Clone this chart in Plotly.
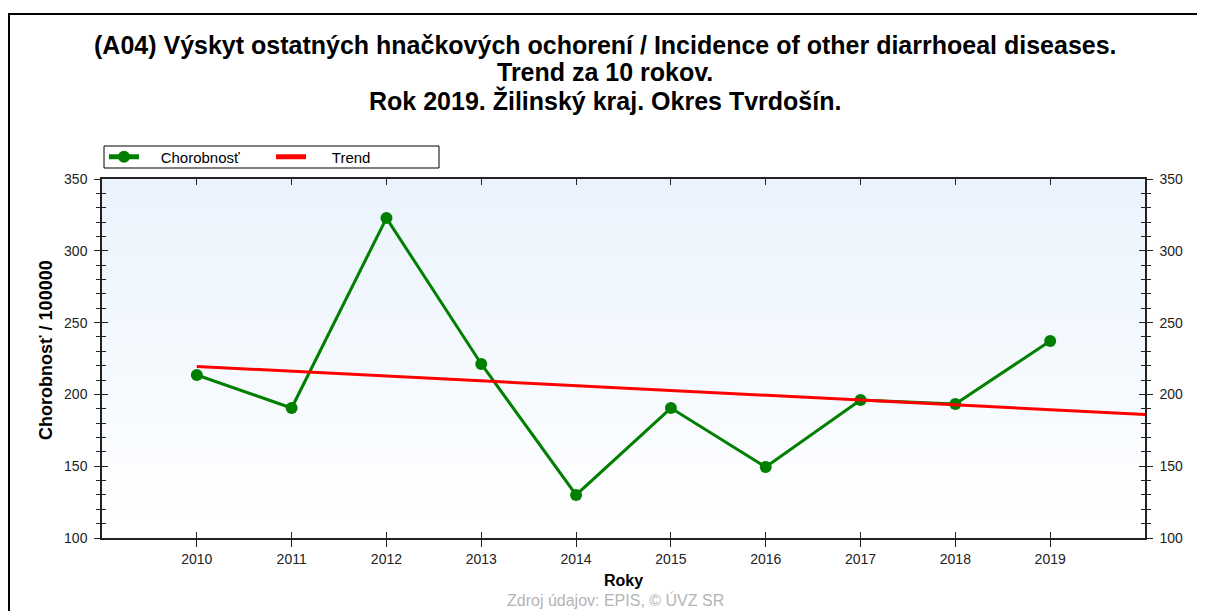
import plotly.graph_objects as go

years = [2010, 2011, 2012, 2013, 2014, 2015, 2016, 2017, 2018, 2019]
chorobnost = [213.5, 190.5, 322.8, 221.2, 130.0, 190.5, 149.4, 196.1, 193.3, 237.2]
trend_years = [2010, 2020]
trend_values = [219.5, 186.0]

title_lines = [
    "(A04) Výskyt ostatných hnačkových ochorení / Incidence of other diarrhoeal diseases.",
    "Trend za 10 rokov.",
    "Rok 2019. Žilinský kraj. Okres Tvrdošín.",
]

OFF = 8  # page body margin
W, H = 1205 - OFF, 611 - OFF
# plot area in page (screenshot) coordinates
L, R, T, B = 102, 1145, 179, 538
pw, ph = R - L, B - T

def px(x):
    return (x - L) / pw

def py(y):
    return (B - y) / ph

FONT = "Liberation Sans, Arial, sans-serif"
AX = "#222222"
PAD = "\u00a0" * 4

fig = go.Figure()

fig.add_trace(go.Scatter(
    x=years, y=chorobnost, name=PAD + "Chorobnosť", mode="lines+markers",
    line=dict(color="#007f00", width=3),
    marker=dict(color="#007f00", size=12, symbol="circle"),
))
fig.add_trace(go.Scatter(
    x=trend_years, y=trend_values, name=PAD + "\u00a0Trend", mode="lines",
    line=dict(color="#ff0000", width=3),
))
# dummy traces to anchor auxiliary axes
for xa, ya in [("x2", "y2"), ("x3", "y3"), ("x", "y4"), ("x", "y5")]:
    fig.add_trace(go.Scatter(x=[None], y=[None], xaxis=xa, yaxis=ya,
                             showlegend=False, hoverinfo="skip"))

# gradient background
n = 60
top = (234, 243, 253)
bot = (255, 255, 255)
for i in range(n):
    t = i / (n - 1)
    c = tuple(round(top[k] + (bot[k] - top[k]) * t) for k in range(3))
    fig.add_shape(type="rect", xref="paper", yref="paper",
                  x0=0, x1=1, y0=1 - (i + 1) / n, y1=1 - i / n + 0.002,
                  fillcolor="rgb(%d,%d,%d)" % c, line=dict(width=0), layer="below")

# outer frame
fig.add_shape(type="rect", xref="paper", yref="paper",
              x0=px(9), x1=px(1240), y0=py(660), y1=py(14),
              line=dict(color="black", width=2), fillcolor="rgba(0,0,0,0)")
# legend box
fig.add_shape(type="rect", xref="paper", yref="paper",
              x0=px(104), x1=px(439), y0=py(168), y1=py(146),
              line=dict(color="black", width=1), fillcolor="white")

xr = [2009, 2020]
yr = [100, 350]
tickfont = dict(family=FONT, size=14, color="#222222")

fig.update_layout(
    width=W, height=H,
    margin=dict(l=L - OFF, r=W - (R - OFF), t=T - OFF, b=H - (B - OFF), pad=0),
    paper_bgcolor="white", plot_bgcolor="rgba(0,0,0,0)",
    font=dict(family=FONT, size=13, color="black"),
    showlegend=True,
    legend=dict(orientation="h", x=px(104), y=py(157), xanchor="left", yanchor="middle",
                bgcolor="rgba(0,0,0,0)", borderwidth=0,
                font=dict(family=FONT, size=15, color="black"),
                entrywidth=122, entrywidthmode="pixels",
                itemsizing="constant", tracegroupgap=0),
    xaxis=dict(range=xr, tickmode="array", tickvals=years, ticktext=[str(y) for y in years],
               ticks="outside", ticklen=7, tickcolor=AX, tickwidth=1,
               showline=True, linecolor=AX, linewidth=1.5, showgrid=False, zeroline=False,
               tickfont=tickfont, fixedrange=True),
    xaxis2=dict(range=xr, overlaying="x", side="bottom", anchor="y", tickmode="array",
                tickvals=years, ticks="inside", ticklen=6, tickcolor=AX,
                showticklabels=False, showline=False, showgrid=False, zeroline=False),
    xaxis3=dict(range=xr, overlaying="x", side="top", anchor="y", tickmode="array",
                tickvals=years, ticks="inside", ticklen=6, tickcolor=AX,
                showticklabels=False, showline=True, linecolor=AX, linewidth=1.5,
                showgrid=False, zeroline=False),
    yaxis=dict(range=yr, tickmode="linear", tick0=100, dtick=50,
               ticks="outside", ticklen=6, tickcolor=AX,
               minor=dict(ticks="outside", ticklen=4, dtick=10, tickcolor=AX),
               showline=True, linecolor=AX, linewidth=1.5, showgrid=False, zeroline=False,
               tickfont=tickfont, ticklabelstandoff=4),
    yaxis2=dict(range=yr, overlaying="y", side="right", anchor="x2", tickmode="linear",
                tick0=100, dtick=50, ticks="outside", ticklen=6, tickcolor=AX,
                minor=dict(ticks="outside", ticklen=4, dtick=10, tickcolor=AX),
                showline=True, linecolor=AX, linewidth=1.5, showgrid=False, zeroline=False,
                tickfont=tickfont, ticklabelstandoff=4),
    yaxis3=dict(range=yr, overlaying="y", side="left", anchor="x3", tickmode="linear",
                tick0=100, dtick=50, ticks="inside", ticklen=6, tickcolor=AX,
                minor=dict(ticks="inside", ticklen=4, dtick=10, tickcolor=AX),
                showticklabels=False, showline=False, showgrid=False, zeroline=False),
    yaxis4=dict(range=yr, overlaying="y", side="left", tickmode="linear",
                tick0=100, dtick=50, ticks="inside", ticklen=6, tickcolor=AX,
                minor=dict(ticks="inside", ticklen=4, dtick=10, tickcolor=AX),
                showticklabels=False, showline=False, showgrid=False, zeroline=False),
    yaxis5=dict(range=yr, overlaying="y", side="right", tickmode="linear",
                tick0=100, dtick=50, ticks="inside", ticklen=6, tickcolor=AX,
                minor=dict(ticks="inside", ticklen=4, dtick=10, tickcolor=AX),
                showticklabels=False, showline=False, showgrid=False, zeroline=False),
)

ann = []
for txt, yc in zip(title_lines, [45, 72, 101]):
    ann.append(dict(text="<b>%s</b>" % txt, x=px(605), y=py(yc), xref="paper", yref="paper",
                    xanchor="center", yanchor="middle", showarrow=False,
                    font=dict(family=FONT, size=25, color="black")))
ann.append(dict(text="<b>Chorobnosť / 100000</b>", x=px(46), y=py(350), xref="paper",
                yref="paper", xanchor="center", yanchor="middle", textangle=-90,
                showarrow=False, font=dict(family=FONT, size=18, color="black")))
ann.append(dict(text="<b>Roky</b>", x=px(623), y=py(580), xref="paper", yref="paper",
                xanchor="center", yanchor="middle", showarrow=False,
                font=dict(family=FONT, size=16, color="black")))
ann.append(dict(text="Zdroj údajov: EPIS, © ÚVZ SR", x=px(615), y=py(600), xref="paper",
                yref="paper", xanchor="center", yanchor="middle", showarrow=False,
                font=dict(family=FONT, size=16, color="#b4b4b4")))
fig.update_layout(annotations=ann)

fig.write_html("out.html")
